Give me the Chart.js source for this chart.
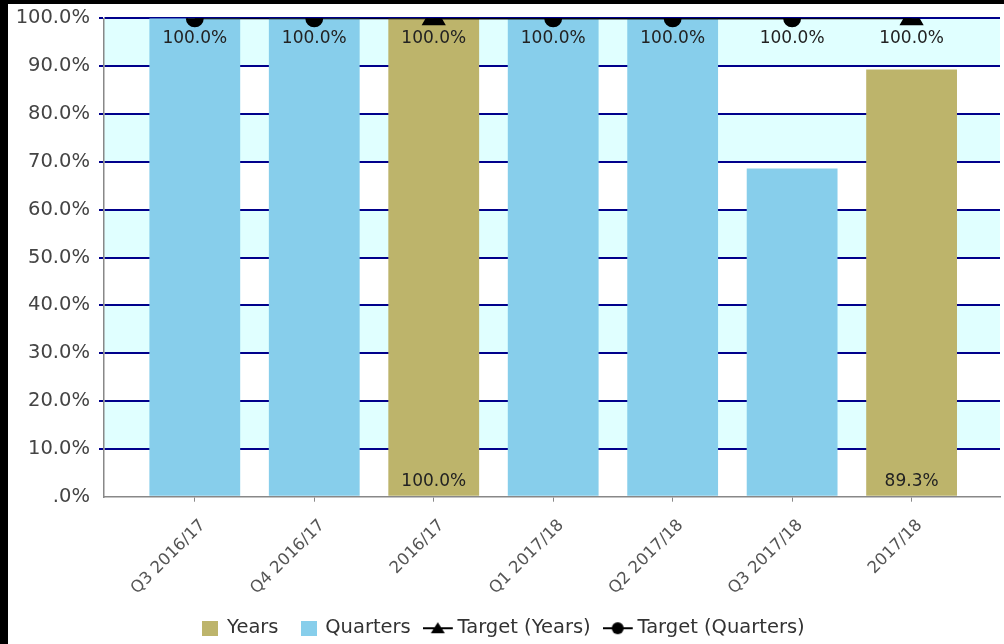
<!DOCTYPE html>
<html lang="en">
<head>
<meta charset="UTF-8">
<title>Performance against target</title>
<script src="https://cdn.jsdelivr.net/npm/chart.js@4"></script>
<style>
  html, body { margin: 0; padding: 0; background: #fff; overflow: hidden; }
  #frame { width: 996px; height: 644px; border-left: 8px solid #000; border-top: 4px solid #000; }
</style>
</head>
<body>
<div id="frame"><canvas id="chart"></canvas></div>
<script>
// chart data
const categories = ['Q3 2016/17', 'Q4 2016/17', '2016/17', 'Q1 2017/18', 'Q2 2017/18', 'Q3 2017/18', '2017/18'];
const yearsValues = [null, null, 100, null, null, null, 89.3];
const quartersValues = [100, 100, null, 100, 100, 68.6, null];
const targetYears = [null, null, 100, null, null, null, 100];
const targetQuarters = [100, 100, null, 100, 100, 100, null];
const yTickLabels = ['.0%', '10.0%', '20.0%', '30.0%', '40.0%', '50.0%', '60.0%', '70.0%', '80.0%', '90.0%', '100.0%'];

const FONT = 'DejaVu Sans';
Chart.defaults.font.family = FONT;

// index -> {x, y}, dropping empty slots
function toPoints(arr) {
    return arr.map((y, x) => ({ x: x, y: y })).filter(p => p.y !== null);
}

// little canvases used as legend icons (legend box is 14px wide, icons are centred on it)
function rectIcon(color) {
    const c = document.createElement('canvas');
    c.width = 16; c.height = 15;
    const g = c.getContext('2d');
    g.fillStyle = color;
    g.fillRect(0, 0, 16, 15);
    return c;
}
function lineIcon(shape) {
    const c = document.createElement('canvas');
    c.width = 36; c.height = 16;
    const g = c.getContext('2d');
    g.strokeStyle = '#000';
    g.lineWidth = 2;
    g.beginPath(); g.moveTo(0, 8); g.lineTo(30, 8); g.stroke();
    g.fillStyle = '#000';
    g.beginPath();
    if (shape === 'triangle') {
        g.moveTo(15, 2); g.lineTo(22, 13); g.lineTo(8, 13); g.closePath();
    } else {
        g.arc(15, 8, 6, 0, Math.PI * 2);
    }
    g.fill();
    return c;
}

// alternating background bands behind the grid
const bands = {
    id: 'bands',
    beforeDraw(chart) {
        const { ctx, chartArea } = chart;
        const y = chart.scales.y;
        ctx.save();
        ctx.fillStyle = '#e0ffff';
        for (let v = 10; v < 100; v += 20) {
            const top = y.getPixelForValue(v + 10);
            const bottom = y.getPixelForValue(v);
            ctx.fillRect(chartArea.left, top, chartArea.right - chartArea.left, bottom - top);
        }
        ctx.restore();
    }
};

// value labels: under the target markers, at the foot of the year bars
const valueLabels = {
    id: 'valueLabels',
    afterDatasetsDraw(chart) {
        const ctx = chart.ctx;
        ctx.save();
        ctx.font = '17px "' + FONT + '"';
        ctx.fillStyle = '#222';
        ctx.textAlign = 'center';
        ctx.textBaseline = 'middle';
        chart.data.datasets.forEach((ds, i) => {
            if (!ds.showValues) return;
            const meta = chart.getDatasetMeta(i);
            meta.data.forEach((el, j) => {
                const v = ds.data[j].y;
                const y = ds.type === 'line' ? el.y + 20 : el.base - 14;
                ctx.fillText(v.toFixed(1) + '%', el.x, y);
            });
        });
        ctx.restore();
    }
};

const icons = [rectIcon('#bdb46b'), rectIcon('#87ceeb'), lineIcon('triangle'), lineIcon('circle')];

new Chart(document.getElementById('chart'), {
    type: 'bar',
    data: {
        datasets: [
            {
                label: 'Years',
                data: toPoints(yearsValues),
                backgroundColor: '#bdb46b',
                categoryPercentage: 1,
                barPercentage: 0.76,
                grouped: false,
                order: 1,
                showValues: true
            },
            {
                label: 'Quarters',
                data: toPoints(quartersValues),
                backgroundColor: '#87ceeb',
                categoryPercentage: 1,
                barPercentage: 0.76,
                grouped: false,
                order: 1
            },
            {
                type: 'line',
                label: 'Target (Years)',
                data: toPoints(targetYears),
                borderColor: '#000',
                borderWidth: 2,
                pointStyle: 'triangle',
                pointRadius: 12,
                pointBackgroundColor: '#000',
                pointBorderColor: '#000',
                clip: 0,
                order: 0,
                showValues: true
            },
            {
                type: 'line',
                label: 'Target (Quarters)',
                data: toPoints(targetQuarters),
                borderColor: '#000',
                borderWidth: 2,
                pointStyle: 'circle',
                pointRadius: 8,
                pointBackgroundColor: '#000',
                pointBorderColor: '#000',
                clip: 0,
                order: 0,
                showValues: true
            }
        ]
    },
    options: {
        responsive: true,
        maintainAspectRatio: false,
        animation: false,
        layout: { autoPadding: false, padding: { top: 14.3, right: 4, left: 0, bottom: 0 } },
        scales: {
            x: {
                type: 'linear',
                min: -0.76,
                max: 6.74,
                offset: false,
                afterFit: s => { s.height = 98.8; s.paddingLeft = 0; s.paddingRight = 0; },
                afterBuildTicks: s => { s.ticks = categories.map((c, i) => ({ value: i })); },
                ticks: {
                    autoSkip: false,
                    minRotation: 45,
                    maxRotation: 45,
                    color: '#555',
                    font: { size: 16.5 },
                    padding: 14,
                    labelOffset: 8,
                    callback: v => categories[v]
                },
                grid: { drawOnChartArea: false, offset: false, tickLength: 5, color: '#888' },
                border: { color: '#888', width: 1.5 }
            },
            y: {
                min: 0,
                max: 100,
                afterFit: s => { s.width = 96; s.paddingTop = 0; s.paddingBottom = 0; },
                ticks: {
                    stepSize: 10,
                    color: '#444',
                    font: { size: 19.5 },
                    padding: 9,
                    callback: (v, i) => yTickLabels[i]
                },
                grid: {
                    color: ctx => ctx.tick && ctx.tick.value === 0 ? 'rgba(0,0,0,0)' : '#00008b',
                    lineWidth: 2,
                    tickLength: 5
                },
                border: { color: '#888', width: 1.5 }
            }
        },
        plugins: {
            tooltip: { enabled: false },
            legend: {
                position: 'bottom',
                labels: {
                    usePointStyle: true,
                    pointStyleWidth: 14,
                    color: '#333',
                    font: { size: 19.5 },
                    padding: 23,
                    generateLabels: chart => chart.data.datasets.map((ds, i) => ({
                        text: ds.label,
                        pointStyle: icons[i],
                        fillStyle: 'rgba(0,0,0,0)',
                        strokeStyle: 'rgba(0,0,0,0)',
                        lineWidth: 0,
                        hidden: false,
                        datasetIndex: i,
                        fontColor: '#333'
                    }))
                }
            }
        }
    },
    plugins: [bands, valueLabels]
});
</script>
</body>
</html>
